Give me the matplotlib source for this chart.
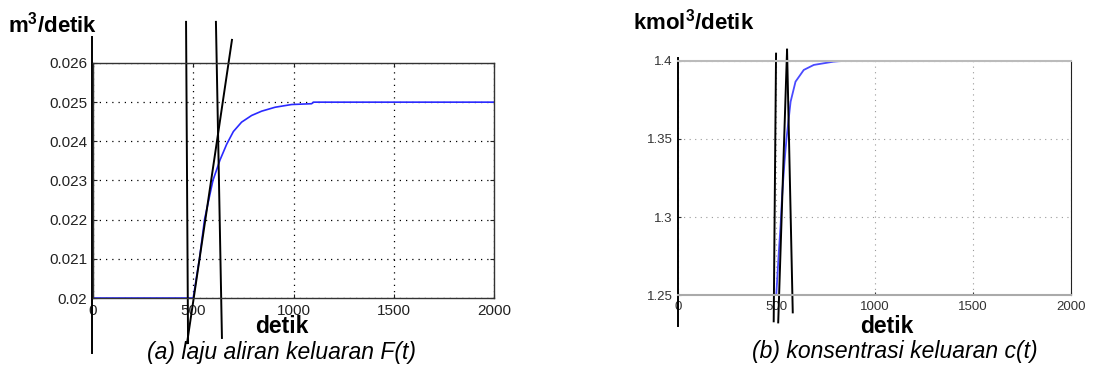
import numpy as np
import matplotlib
matplotlib.use("Agg")
from matplotlib import pyplot as plt

plt.rcParams['font.family'] = ['Liberation Sans', 'DejaVu Sans']
plt.rcParams['mathtext.fontset'] = 'custom'
plt.rcParams['mathtext.rm'] = 'Liberation Sans'
plt.rcParams['mathtext.bf'] = 'Liberation Sans:bold'

# panel (a): outflow rate F(t)
t_a = [0, 500, 515, 531, 556, 598, 633, 667, 700, 741, 791, 841, 908, 991,
       1090, 1100, 2000]
F_a = [0.02, 0.02, 0.0205, 0.021, 0.022, 0.023, 0.02352, 0.02393, 0.02425,
       0.02449, 0.02466, 0.02477, 0.02487, 0.02494, 0.02496, 0.025, 0.025]

# panel (b): outlet concentration c(t)
t_b = [0, 500, 513, 522, 530, 542, 552, 573, 598, 640, 691, 792, 850, 2000]
c_b = [1.25, 1.25, 1.2777, 1.2948, 1.314, 1.3354, 1.35, 1.3738, 1.3866,
       1.3941, 1.3973, 1.3994, 1.4, 1.4]

# hand drawn construction lines (data coords)
lines_a = [([-5, -5], [0.02666, 0.0186]),
           ([464, 474], [0.02705, 0.01885]),
           ([613, 643], [0.02705, 0.01898]),
           ([693, 469], [0.02659, 0.01885])]
lines_b = [([0, 0], [1.4019, 1.2303]),
           ([499, 487], [1.4045, 1.2335]),
           ([555, 510], [1.407, 1.2328]),
           ([555, 584], [1.407, 1.2392])]

fig = plt.figure(figsize=(10.93, 3.69), dpi=100)

# ---------- (a)
ax1 = fig.add_axes([0.0851, 0.1924, 0.3669, 0.6369])
ax1.plot(t_a, F_a, color='#2a2aff', lw=1.2)
ax1.set_xlim(0, 2000)
ax1.set_ylim(0.02, 0.026)
ax1.set_xticks([0, 500, 1000, 1500, 2000])
ax1.set_yticks([0.02, 0.021, 0.022, 0.023, 0.024, 0.025, 0.026])
ax1.set_yticklabels(['0.02', '0.021', '0.022', '0.023', '0.024', '0.025', '0.026'])
ax1.grid(True, color='black', linestyle=(0, (1, 4)), lw=0.9)
ax1.tick_params(direction='in', labelsize=11, length=3, top=True, right=True,
                colors='#222222', pad=4)
for s in ax1.spines.values():
    s.set_color('#333333')
    s.set_linewidth(1)
for xs, ys in lines_a:
    ax1.plot(xs, ys, color='black', lw=1.4, clip_on=False)

fig.text(0.0073, 0.913, 'm$^\\mathbf{3}$/detik', fontsize=16, fontweight='bold',
         va='baseline')
fig.text(0.258, 0.0976, 'detik', fontsize=16.5, fontweight='bold', ha='center',
         va='baseline')
fig.text(0.258, 0.026, '(a) laju aliran keluaran F(t)', fontsize=16.5,
         style='italic', ha='center', va='baseline')

# ---------- (b)
ax2 = fig.add_axes([0.6203, 0.1992, 0.3596, 0.6363])
ax2.plot(t_b, c_b, color='#4a4aff', lw=1.3)
ax2.set_xlim(0, 2000)
ax2.set_ylim(1.25, 1.4)
ax2.set_xticks([0, 500, 1000, 1500, 2000])
ax2.set_yticks([1.25, 1.3, 1.35, 1.4])
ax2.set_yticklabels(['1.25', '1.3', '1.35', '1.4'])
ax2.grid(True, color='#999999', linestyle=(0, (1, 4)), lw=0.8)
ax2.tick_params(direction='in', labelsize=9.5, length=2, colors='#333333', pad=4)
ax2.spines['top'].set_color('#bbbbbb')
ax2.spines['top'].set_linewidth(1.5)
ax2.spines['bottom'].set_color('#aaaaaa')
ax2.spines['bottom'].set_linewidth(1.5)
ax2.spines['left'].set_visible(False)
ax2.spines['right'].set_color('#222222')
for xs, ys in lines_b:
    ax2.plot(xs, ys, color='black', lw=1.4, clip_on=False)

fig.text(0.579, 0.919, 'kmol$^\\mathbf{3}$/detik', fontsize=16, fontweight='bold',
         va='baseline')
fig.text(0.8115, 0.0976, 'detik', fontsize=16.5, fontweight='bold', ha='center',
         va='baseline')
fig.text(0.819, 0.03, '(b) konsentrasi keluaran c(t)', fontsize=16.5,
         style='italic', ha='center', va='baseline')

fig.savefig('out.png', dpi=100)
